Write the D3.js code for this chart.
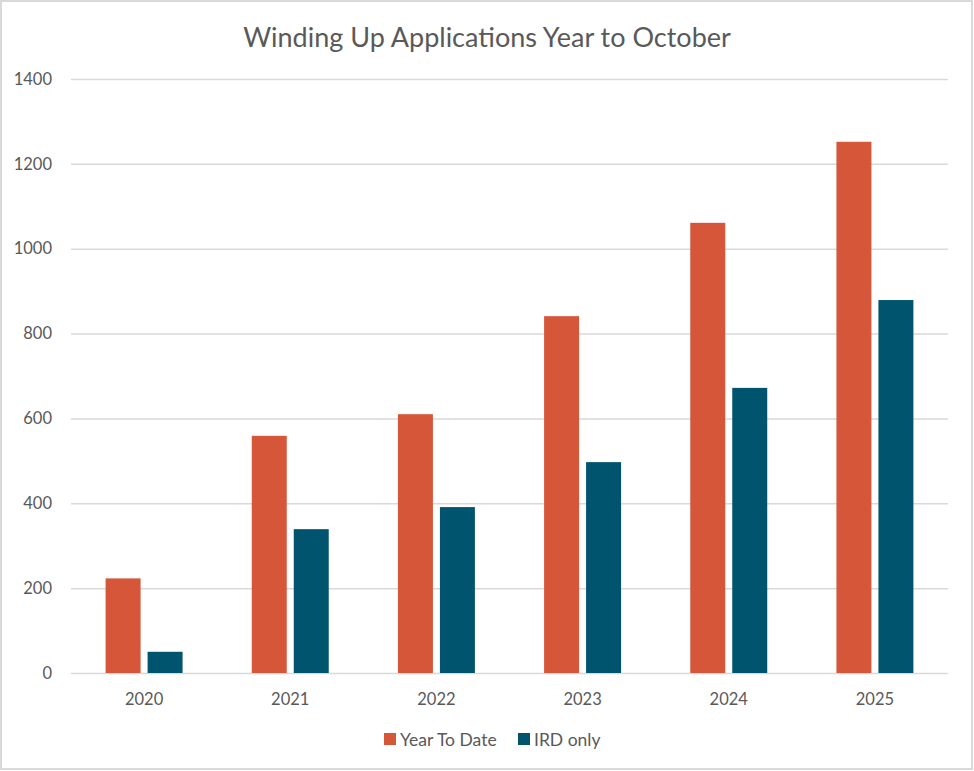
<!DOCTYPE html>
<html><head><meta charset="utf-8">
<script src="https://cdn.jsdelivr.net/npm/d3@7"></script>
<style>body{margin:0;background:#fff}svg{display:block}</style>
</head><body>
<svg id="c" width="974" height="771"></svg>
<script>
const categories = ["2020","2021","2022","2023","2024","2025"];
const seriesNames = ["Year To Date","IRD only"];
const yearToDate = [223, 559, 610, 841, 1061, 1252];
const irdOnly = [50, 339, 391, 497, 672, 879];
const yTicks = [0,200,400,600,800,1000,1200,1400];
const colors = ["#D6563A","#00546E"];

const svg = d3.select("#c");
const W = 974, H = 771;
const font = "Lato, 'Open Sans', sans-serif";
const textColor = "#595959";

svg.append("rect").attr("x",1).attr("y",1).attr("width",W-3).attr("height",H-3)
  .attr("fill","#fff").attr("stroke","#d9d9d9").attr("stroke-width",2);

const mLeft = 71, mRight = 948, mTop = 79, mBottom = 673;
const x0 = d3.scaleBand().domain(categories).range([mLeft,mRight]).padding(0);
const x1 = d3.scaleBand().domain(seriesNames).range([0,x0.bandwidth()]).paddingInner(0.1667).paddingOuter(0.824);
const y = d3.scaleLinear().domain([0,1400]).range([mBottom,mTop]);

const yAxis = d3.axisLeft(y).tickValues(yTicks).tickFormat(d3.format("d")).tickSize(-(mRight-mLeft)).tickPadding(19);
const gy = svg.append("g").attr("transform",`translate(${mLeft},0)`).call(yAxis);
gy.select(".domain").remove();
gy.selectAll(".tick line").attr("stroke","#d9d9d9").attr("stroke-width",1.5);
gy.selectAll(".tick text").attr("fill",textColor).attr("font-family",font).attr("font-size",16.5);

const xAxis = d3.axisBottom(x0).tickSize(0).tickPadding(20);
const gx = svg.append("g").attr("transform",`translate(0,${mBottom})`).call(xAxis);
gx.select(".domain").remove();
gx.selectAll(".tick text").attr("fill",textColor).attr("font-family",font).attr("font-size",16.5);

const data = categories.map((c,i)=>({cat:c, vals:[yearToDate[i], irdOnly[i]]}));
const groups = svg.append("g").selectAll("g").data(data).join("g")
  .attr("transform",d=>`translate(${x0(d.cat)},0)`);
groups.selectAll("rect").data(d=>d.vals.map((v,j)=>({name:seriesNames[j],v,j}))).join("rect")
  .attr("x",d=>x1(d.name)).attr("width",x1.bandwidth())
  .attr("y",d=>y(d.v)).attr("height",d=>y(0)-y(d.v))
  .attr("fill",d=>colors[d.j]);

svg.append("text").attr("x",487).attr("y",47).attr("text-anchor","middle")
  .attr("font-family",font).attr("font-size",27).attr("fill",textColor)
  .text("Winding Up Applications Year to October");

const legend = svg.append("g").attr("transform","translate(384,733)");
const lx = [0,134];
seriesNames.forEach((n,i)=>{
  const g = legend.append("g").attr("transform",`translate(${lx[i]},0)`);
  g.append("rect").attr("width",12).attr("height",12).attr("fill",colors[i]);
  g.append("text").attr("x",16).attr("y",13).attr("font-family",font).attr("font-size",17.5)
    .attr("fill",textColor).text(n);
});
</script>
</body></html>
